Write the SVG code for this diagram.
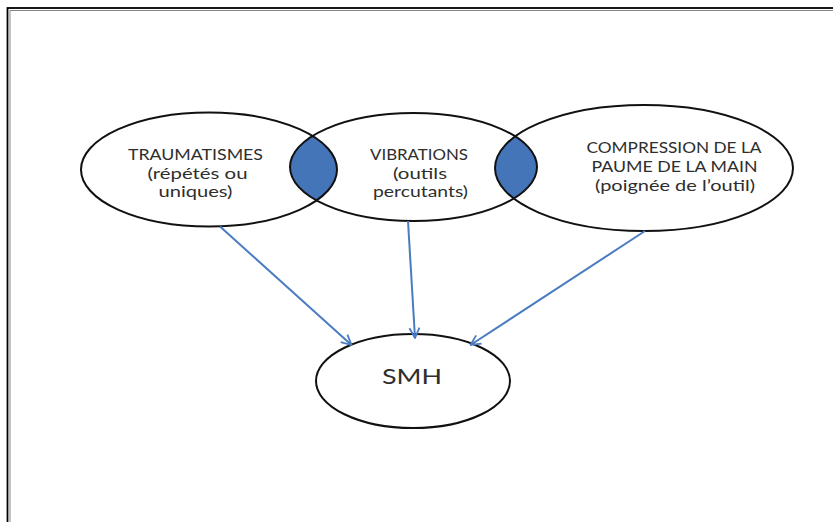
<svg xmlns="http://www.w3.org/2000/svg" width="833" height="522" viewBox="0 0 833 522">
<style>
.node{fill:none;stroke:#111;stroke-width:2}
.lbl{font-family:Lato,"Open Sans","Liberation Sans",sans-serif;font-size:16px;fill:#2e2e2e;text-anchor:middle}
.big{font-size:21px}
.conn{stroke:#4a7cc0;stroke-width:2;fill:none;marker-end:url(#ah)}
.lens{fill:#4475b9}
</style>
<defs>
<marker id="ah" viewBox="0 0 12 12" refX="11" refY="6" markerWidth="12" markerHeight="12" markerUnits="userSpaceOnUse" orient="auto">
<path d="M1,1 L11,6 L1,11" fill="none" stroke="#4a7cc0" stroke-width="1.8"/>
</marker>
<clipPath id="c1"><ellipse cx="209" cy="169.5" rx="128" ry="57"/></clipPath>
<clipPath id="c3"><ellipse cx="644" cy="168" rx="149" ry="63"/></clipPath>
</defs>
<rect x="0" y="0" width="833" height="522" fill="#fff"/>
<g id="frame">
<rect x="7.5" y="8" width="900" height="600" fill="none" stroke="#000" stroke-width="1.8"/>
<rect x="10" y="10.5" width="900" height="600" fill="none" stroke="#888" stroke-width="1"/>
</g>
<g id="lenses">
<ellipse class="lens" cx="413.5" cy="167" rx="123.5" ry="54" clip-path="url(#c1)"/>
<ellipse class="lens" cx="413.5" cy="167" rx="123.5" ry="54" clip-path="url(#c3)"/>
</g>
<g id="n1">
<ellipse class="node" cx="209" cy="169.5" rx="128" ry="57"/>
<text class="lbl" x="195.5" y="160" textLength="135" lengthAdjust="spacingAndGlyphs">TRAUMATISMES</text>
<text class="lbl" x="197.5" y="178.5" textLength="100" lengthAdjust="spacingAndGlyphs">(répétés ou</text>
<text class="lbl" x="195.5" y="197" textLength="74" lengthAdjust="spacingAndGlyphs">uniques)</text>
</g>
<g id="n2">
<ellipse class="node" cx="413.5" cy="167" rx="123.5" ry="54"/>
<text class="lbl" x="419" y="160" textLength="98" lengthAdjust="spacingAndGlyphs">VIBRATIONS</text>
<text class="lbl" x="420" y="178.5" textLength="54" lengthAdjust="spacingAndGlyphs">(outils</text>
<text class="lbl" x="420.5" y="197" textLength="95" lengthAdjust="spacingAndGlyphs">percutants)</text>
</g>
<g id="n3">
<ellipse class="node" cx="644" cy="168" rx="149" ry="63"/>
<text class="lbl" x="674" y="152.5" textLength="175" lengthAdjust="spacingAndGlyphs">COMPRESSION DE LA</text>
<text class="lbl" x="674.5" y="172" textLength="166" lengthAdjust="spacingAndGlyphs">PAUME DE LA MAIN</text>
<text class="lbl" x="675" y="191" textLength="160" lengthAdjust="spacingAndGlyphs">(poignée de l’outil)</text>
</g>
<g id="n4">
<ellipse class="node" cx="413" cy="381" rx="97" ry="47"/>
<text class="lbl big" x="412" y="384" textLength="60" lengthAdjust="spacingAndGlyphs">SMH</text>
</g>
<g id="connectors">
<line class="conn" x1="220" y1="226.5" x2="351.5" y2="345"/>
<line class="conn" x1="408" y1="221" x2="415" y2="338"/>
<line class="conn" x1="645" y1="231" x2="470.5" y2="345"/>
</g>
</svg>
